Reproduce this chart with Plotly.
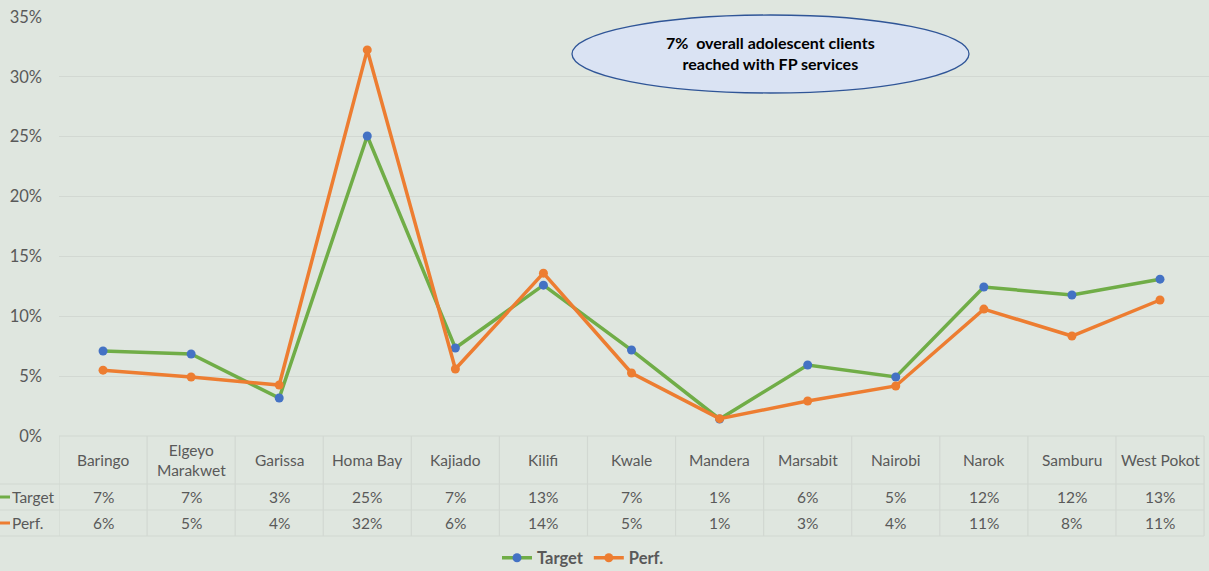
import plotly.graph_objects as go

categories = ["Baringo", "Elgeyo<br>Marakwet", "Garissa", "Homa Bay", "Kajiado", "Kilifi",
              "Kwale", "Mandera", "Marsabit", "Nairobi", "Narok", "Samburu", "West Pokot"]
target = [7.1, 6.85, 3.17, 25.06, 7.35, 12.6, 7.18, 1.42, 5.93, 4.93, 12.45, 11.78, 13.1]
perf = [5.5, 4.93, 4.26, 32.25, 5.6, 13.6, 5.26, 1.45, 2.92, 4.18, 10.6, 8.35, 11.36]
y_ticks = [0, 5, 10, 15, 20, 25, 30, 35]
note_text = "7%  overall adolescent clients<br>reached with FP services"

W, H = 1209, 571
BG = "#dfe6df"
GRID = "#d2d8d2"
TXT = "#595959"
GREEN = "#70ad47"
BLUE = "#4472c4"
ORANGE = "#ed7d31"
FONT = "Lato"

def py(p):
    return 1 - p / H

x_idx = list(range(len(categories)))

fig = go.Figure()
fig.add_trace(go.Scatter(x=x_idx, y=target, name="Target", mode="lines+markers",
                         line=dict(color=GREEN, width=3.5),
                         marker=dict(color=BLUE, size=9)))
fig.add_trace(go.Scatter(x=x_idx, y=perf, name="Perf.", mode="lines+markers",
                         line=dict(color=ORANGE, width=3.5),
                         marker=dict(color=ORANGE, size=9)))

n = len(categories)
cat_w = 88.08
x_left_px, x_right_px = 59, W
xmax = -0.5 + (x_right_px - x_left_px) / cat_w

shapes = []
annotations = []
row_top, row1, row2, row3 = 436, 484, 510, 536
shapes.append(dict(type="line", xref="x", yref="paper", x0=-0.5, x1=n - 0.5,
                   y0=py(row_top), y1=py(row_top), line=dict(color=GRID, width=1.2)))
for r in (row1, row2, row3):
    shapes.append(dict(type="line", xref="paper", yref="paper", x0=0, x1=(x_left_px + n * cat_w) / W,
                       y0=py(r), y1=py(r), line=dict(color=GRID, width=1.2)))
for i in range(n + 1):
    shapes.append(dict(type="line", xref="x", yref="paper", x0=i - 0.5, x1=i - 0.5,
                       y0=py(row_top), y1=py(row3), line=dict(color=GRID, width=1.2)))
shapes.append(dict(type="line", xref="paper", yref="paper", x0=0, x1=10 / W,
                   y0=py(497), y1=py(497), line=dict(color=GREEN, width=3)))
shapes.append(dict(type="line", xref="paper", yref="paper", x0=0, x1=10 / W,
                   y0=py(523), y1=py(523), line=dict(color=ORANGE, width=3)))
shapes.append(dict(type="circle", xref="paper", yref="paper", x0=572 / W, x1=969 / W,
                   y0=py(93), y1=py(15), fillcolor="#dae3f3",
                   line=dict(color="#2f5597", width=1.3), layer="above"))

def fmt(v):
    return f"{int(v + 0.5)}%"

TF = dict(family=FONT, size=15.5, color=TXT)
for i, c in enumerate(categories):
    annotations.append(dict(x=i, y=py(460), xref="x", yref="paper", text=c, showarrow=False,
                            yanchor="middle", font=TF))
    annotations.append(dict(x=i, y=py(497), xref="x", yref="paper", text=fmt(target[i]), showarrow=False,
                            yanchor="middle", font=TF))
    annotations.append(dict(x=i, y=py(523), xref="x", yref="paper", text=fmt(perf[i]), showarrow=False,
                            yanchor="middle", font=TF))
annotations.append(dict(x=10 / W, y=py(497), xref="paper", yref="paper", text="Target", showarrow=False,
                        xanchor="left", yanchor="middle", font=TF))
annotations.append(dict(x=10 / W, y=py(523), xref="paper", yref="paper", text="Perf.", showarrow=False,
                        xanchor="left", yanchor="middle", font=TF))
annotations.append(dict(x=770 / W, y=py(53), xref="paper", yref="paper", text=f"<b>{note_text}</b>",
                        showarrow=False, yanchor="middle",
                        font=dict(family=FONT, size=16, color="#000000")))

fig.update_layout(
    width=W, height=H,
    margin=dict(l=0, r=0, t=0, b=0, autoexpand=False),
    paper_bgcolor=BG, plot_bgcolor=BG,
    font=dict(family=FONT, color=TXT),
    showlegend=True,
    legend=dict(orientation="h", x=583 / W, xanchor="center", y=py(558), yanchor="middle",
                font=dict(family=FONT, size=16.5, color=TXT, weight="bold"),
                bgcolor="rgba(0,0,0,0)", itemwidth=30),
    xaxis=dict(domain=[x_left_px / W, 1], range=[-0.5, xmax], showgrid=False, zeroline=False,
               showticklabels=False, showline=False, fixedrange=True, automargin=False),
    yaxis=dict(domain=[py(436), py(17)], range=[0, 35], tickvals=y_ticks,
               ticktext=[f"{t}%" for t in y_ticks], showgrid=True, gridcolor=GRID, gridwidth=1.2,
               zeroline=False, showline=False, ticklabelstandoff=16, automargin=False,
               tickfont=dict(family=FONT, size=16.5, color=TXT)),
    shapes=shapes,
    annotations=annotations,
)

fig.write_html("out.html", config={"displayModeBar": False},
               post_script="document.body.style.margin='0';document.body.style.overflow='hidden';")
